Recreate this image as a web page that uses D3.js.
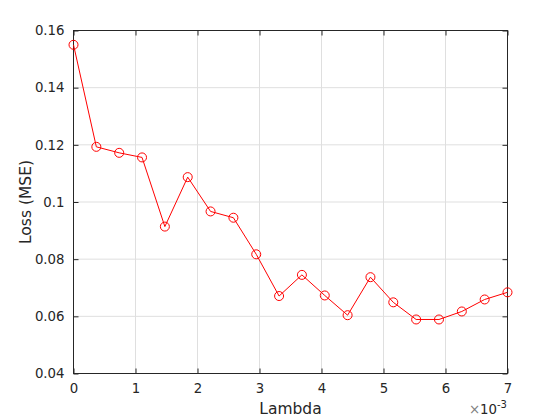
<!DOCTYPE html>
<html>
<head>
<meta charset="utf-8">
<script src="https://cdn.jsdelivr.net/npm/d3@7"></script>
<style>
  body { margin: 0; background: #fff; }
  text { font-family: "DejaVu Sans", sans-serif; fill: #262626; }
</style>
</head>
<body>
<svg id="chart" width="560" height="420"></svg>
<script>
// lambda values (x 1e-3) and the matching loss
const lambdas = d3.range(20).map(i => i * 7 / 19);
const loss = [0.155, 0.1193, 0.1172, 0.1156, 0.0914, 0.1087, 0.0967, 0.0945, 0.0817,
  0.0671, 0.0745, 0.0673, 0.0604, 0.0737, 0.0649, 0.0589, 0.0589, 0.0617, 0.0659, 0.0684];
const xTicks = [0, 1, 2, 3, 4, 5, 6, 7];
const yTicks = [0.04, 0.06, 0.08, 0.1, 0.12, 0.14, 0.16];

const svg = d3.select("#chart");
const axL = 73.5, axR = 507.5, axT = 30.5, axB = 373.5;

const x = d3.scaleLinear().domain([0, 7]).range([axL, axR]);
const y = d3.scaleLinear().domain([0.04, 0.16]).range([axB, axT]);

// grid
svg.append("g").selectAll("line").data(xTicks.slice(1, -1)).enter().append("line")
  .attr("x1", d => x(d)).attr("x2", d => x(d)).attr("y1", axT).attr("y2", axB)
  .attr("stroke", "#dfdfdf");
svg.append("g").selectAll("line").data(yTicks.slice(1, -1)).enter().append("line")
  .attr("y1", d => y(d)).attr("y2", d => y(d)).attr("x1", axL).attr("x2", axR)
  .attr("stroke", "#dfdfdf");

// axes, ticks inside
const fmtY = d => d === 0.1 ? "0.1" : d3.format(".2f")(d);
svg.append("g").attr("transform", `translate(0,${axB})`)
  .call(d3.axisBottom(x).tickValues(xTicks).tickFormat(d3.format("d")).tickSizeInner(-5).tickSizeOuter(0).tickPadding(10))
  .call(g => g.select(".domain").remove());
svg.append("g").attr("transform", `translate(${axL},0)`)
  .call(d3.axisLeft(y).tickValues(yTicks).tickFormat(fmtY).tickSizeInner(-5).tickSizeOuter(0).tickPadding(9))
  .call(g => g.select(".domain").remove());
svg.append("g").attr("transform", `translate(0,${axT})`)
  .call(d3.axisTop(x).tickValues(xTicks).tickFormat("").tickSizeInner(-5).tickSizeOuter(0))
  .call(g => g.select(".domain").remove());
svg.append("g").attr("transform", `translate(${axR},0)`)
  .call(d3.axisRight(y).tickValues(yTicks).tickFormat("").tickSizeInner(-5).tickSizeOuter(0))
  .call(g => g.select(".domain").remove());
svg.selectAll(".tick line").attr("stroke", "#262626");
svg.selectAll(".tick text").attr("font-size", 13.3).attr("fill", "#262626")
  .style("font-family", "DejaVu Sans");

svg.append("rect").attr("x", axL).attr("y", axT)
  .attr("width", axR - axL).attr("height", axB - axT)
  .attr("fill", "none").attr("stroke", "#262626");

// line + markers
const pts = lambdas.map((l, i) => [l, loss[i]]);
svg.append("path").datum(pts)
  .attr("d", d3.line().x(d => x(d[0])).y(d => y(d[1])))
  .attr("fill", "none").attr("stroke", "#ff0000").attr("stroke-width", 1);
svg.append("g").selectAll("circle").data(pts).enter().append("circle")
  .attr("cx", d => x(d[0])).attr("cy", d => y(d[1])).attr("r", 4.5)
  .attr("fill", "none").attr("stroke", "#ff0000").attr("stroke-width", 1);

// labels
svg.append("text").attr("x", (axL + axR) / 2).attr("y", 414)
  .attr("text-anchor", "middle").attr("font-size", 15.5).text("Lambda");
svg.append("text").attr("transform", `translate(31,${(axT + axB) / 2}) rotate(-90)`)
  .attr("text-anchor", "middle").attr("font-size", 15.5).text("Loss (MSE)");
const ex = svg.append("text").attr("x", 507).attr("y", 414).attr("text-anchor", "end").attr("font-size", 13.3);
ex.append("tspan").attr("fill", "#808080").text("×");
ex.append("tspan").text("10");
ex.append("tspan").attr("dy", -6).attr("font-size", 10).text("-3");
</script>
</body>
</html>
